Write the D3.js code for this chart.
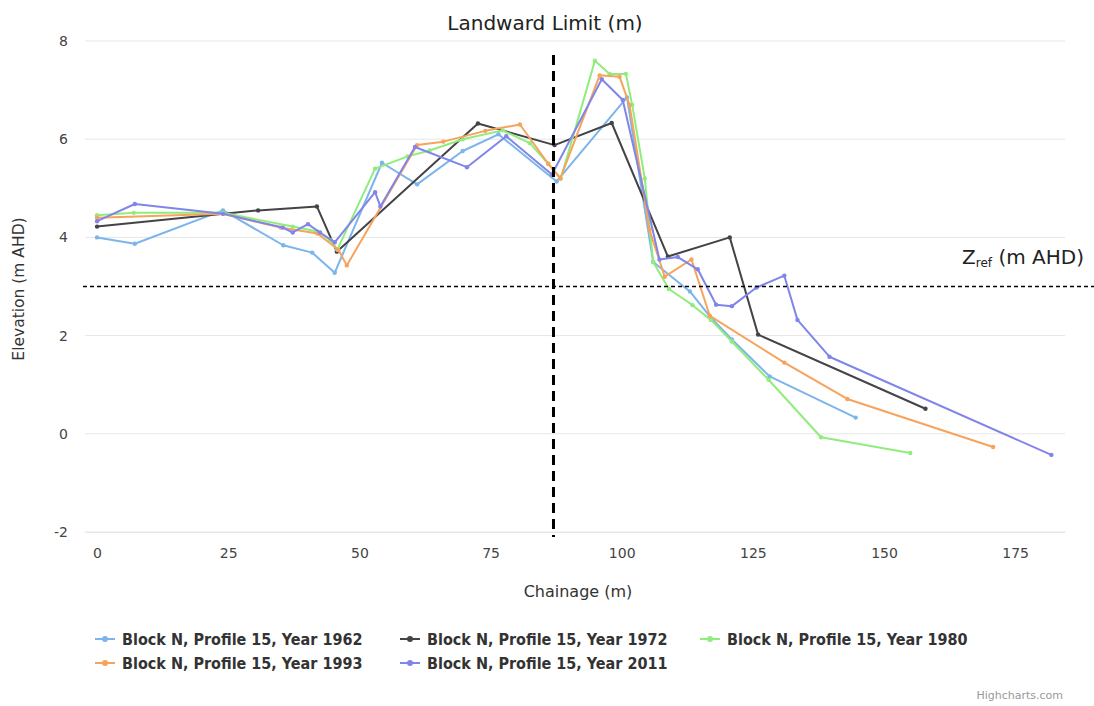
<!DOCTYPE html>
<html>
<head>
<meta charset="utf-8">
<script src="https://cdn.jsdelivr.net/npm/d3@7/dist/d3.min.js"></script>
<style>
  html, body { margin: 0; padding: 0; background: #fff; }
  svg { display: block; }
</style>
</head>
<body>
<svg id="chart" width="1094" height="706"></svg>
<script>
// Beach profile surveys, Block N, Profile 15: chainage (m) vs elevation (m AHD)
const years = ["1962", "1972", "1980", "1993", "2011"];
const colors = ["#7cb5ec", "#434348", "#90ed7d", "#f7a35c", "#8085e9"];

const profile1962 = [
  [0, 4.0], [7.2, 3.87], [24, 4.55], [35.5, 3.84], [41, 3.69], [45.3, 3.28],
  [54.3, 5.52], [61, 5.08], [69.7, 5.76], [76.5, 6.1], [87.6, 5.14],
  [101, 6.85], [106, 3.5], [113, 2.9], [116.8, 2.39], [121, 1.92],
  [128.2, 1.17], [144.6, 0.33]
];
const profile1972 = [
  [0, 4.22], [30.7, 4.55], [41.9, 4.63], [45.7, 3.71], [72.6, 6.32],
  [87.2, 5.88], [98.1, 6.33], [108.8, 3.61], [120.6, 4.0], [126, 2.02],
  [157.9, 0.51]
];
const profile1980 = [
  [0, 4.45], [7, 4.5], [24, 4.5], [37.3, 4.22], [42, 4.12], [44.4, 3.95],
  [45.8, 3.75], [53, 5.4], [59.2, 5.65], [63.4, 5.77], [69.7, 6.0],
  [77.3, 6.18], [82.5, 5.92], [86, 5.5], [88.4, 5.2], [94.9, 7.6],
  [97.7, 7.33], [100.8, 7.33], [102, 6.7], [104.4, 5.2], [106, 3.5],
  [109, 2.95], [113.5, 2.62], [117, 2.32], [121, 1.88], [128, 1.1],
  [138, -0.07], [155, -0.39]
];
const profile1993 = [
  [0, 4.4], [24, 4.48], [35, 4.2], [42, 4.08], [46, 3.75], [47.6, 3.43],
  [61, 5.88], [66, 5.95], [74, 6.17], [80.6, 6.3], [86, 5.5], [88.3, 5.2],
  [95.8, 7.3], [99.6, 7.27], [101.5, 6.7], [105.3, 4.15], [108.2, 3.2],
  [113.3, 3.55], [116.8, 2.4], [131, 1.45], [143, 0.71], [170.8, -0.27]
];
const profile2011 = [
  [0, 4.33], [7.2, 4.68], [24, 4.48], [35.4, 4.2], [37.3, 4.1], [40.2, 4.27],
  [42.5, 4.1], [45.3, 3.9], [53, 4.92], [54, 4.63], [60.6, 5.84],
  [70.5, 5.43], [78, 6.06], [86.7, 5.28], [96.2, 7.22], [100.2, 6.8],
  [107.2, 3.55], [110.7, 3.6], [114.5, 3.35], [118, 2.63], [121, 2.6],
  [125.7, 2.98], [131, 3.22], [133.5, 2.32], [139.6, 1.57], [181.9, -0.43]
];
const profiles = [profile1962, profile1972, profile1980, profile1993, profile2011];

const xTicks = [0, 25, 50, 75, 100, 125, 150, 175];
const yTicks = [-2, 0, 2, 4, 6, 8];
const landwardLimit = 87;   // chainage of landward limit (m)
const zRef = 3;             // reference elevation (m AHD)

const svg = d3.select("#chart");
const plot = { left: 85, right: 1065, top: 41, bottom: 532 };

const x = d3.scaleLinear().domain([-2.3, 184.5]).range([plot.left, plot.right]);
const y = d3.scaleLinear().domain([-2, 8]).range([plot.bottom, plot.top]);

const fontAxis = "'DejaVu Sans', Verdana, sans-serif";
const fmt = d => String(d);

// horizontal grid
svg.append("g")
  .selectAll("line")
  .data(yTicks)
  .join("line")
  .attr("x1", plot.left).attr("x2", plot.right)
  .attr("y1", d => y(d)).attr("y2", d => y(d))
  .attr("stroke", "#e6e6e6").attr("stroke-width", 1);

// x axis
const xAxis = svg.append("g")
  .attr("transform", `translate(0,${plot.bottom})`)
  .call(d3.axisBottom(x).tickValues(xTicks).tickFormat(fmt).tickSize(0).tickPadding(16));
xAxis.select(".domain").attr("stroke", "#e6e6e6");
xAxis.selectAll("text")
  .attr("font-family", fontAxis).attr("font-size", 14).attr("fill", "#444");

// y axis
const yAxis = svg.append("g")
  .attr("transform", `translate(${plot.left - 2},0)`)
  .call(d3.axisLeft(y).tickValues(yTicks).tickFormat(fmt).tickSize(0).tickPadding(15));
yAxis.select(".domain").remove();
yAxis.selectAll("text")
  .attr("font-family", fontAxis).attr("font-size", 14).attr("fill", "#444");

// axis titles
svg.append("text")
  .attr("x", 578).attr("y", 597)
  .attr("text-anchor", "middle")
  .attr("font-family", fontAxis).attr("font-size", 16).attr("fill", "#333")
  .text("Chainage (m)");
svg.append("text")
  .attr("transform", `translate(24,${289}) rotate(-90)`)
  .attr("text-anchor", "middle")
  .attr("font-family", fontAxis).attr("font-size", 15.5).attr("fill", "#333")
  .text("Elevation (m AHD)");

// profile lines
const line = d3.line().x(d => x(d[0])).y(d => y(d[1]));
const series = svg.append("g")
  .selectAll("g")
  .data(profiles)
  .join("g");
series.append("path")
  .attr("d", d => line(d))
  .attr("fill", "none")
  .attr("stroke", (d, i) => colors[i])
  .attr("stroke-width", 2)
  .attr("stroke-linejoin", "round");
series.selectAll("circle")
  .data((d, i) => d.map(p => ({ p, i })))
  .join("circle")
  .attr("cx", d => x(d.p[0])).attr("cy", d => y(d.p[1]))
  .attr("r", 2.2)
  .attr("fill", d => colors[d.i]);

// landward limit marker
svg.append("line")
  .attr("x1", x(landwardLimit)).attr("x2", x(landwardLimit))
  .attr("y1", 55).attr("y2", 537)
  .attr("stroke", "#000").attr("stroke-width", 3)
  .attr("stroke-dasharray", "10,6");
svg.append("text")
  .attr("x", 545).attr("y", 30)
  .attr("text-anchor", "middle")
  .attr("font-family", fontAxis).attr("font-size", 20).attr("fill", "#222")
  .text("Landward Limit (m)");

// reference elevation marker
svg.append("line")
  .attr("x1", 83).attr("x2", 1094)
  .attr("y1", y(zRef)).attr("y2", y(zRef))
  .attr("stroke", "#000").attr("stroke-width", 1.5)
  .attr("stroke-dasharray", "4,3");
const zLabel = svg.append("text")
  .attr("x", 1084).attr("y", 264)
  .attr("text-anchor", "end")
  .attr("font-family", fontAxis).attr("font-size", 20).attr("fill", "#222");
zLabel.append("tspan").text("Z");
zLabel.append("tspan").attr("font-size", 12).attr("dy", 3).text("ref");
zLabel.append("tspan").attr("dy", -3).text(" (m AHD)");

// legend
const legendPos = [[95, 639], [400, 639], [700, 639], [95, 663], [400, 663]];
const legend = svg.append("g")
  .selectAll("g")
  .data(years)
  .join("g")
  .attr("transform", (d, i) => `translate(${legendPos[i][0]},${legendPos[i][1]})`);
legend.append("line")
  .attr("x1", 0).attr("x2", 20).attr("y1", 0).attr("y2", 0)
  .attr("stroke", (d, i) => colors[i]).attr("stroke-width", 2);
legend.append("circle")
  .attr("cx", 10).attr("cy", 0).attr("r", 3)
  .attr("fill", (d, i) => colors[i]);
legend.append("text")
  .attr("x", 27).attr("y", 6)
  .attr("font-family", "'DejaVu Sans Condensed', 'DejaVu Sans', sans-serif")
  .attr("font-size", 16).attr("font-weight", "bold").attr("fill", "#333")
  .text(d => `Block N, Profile 15, Year ${d}`);

// credit
svg.append("text")
  .attr("x", 1063).attr("y", 699)
  .attr("text-anchor", "end")
  .attr("font-family", fontAxis).attr("font-size", 11).attr("fill", "#999")
  .text("Highcharts.com");
</script>
</body>
</html>
